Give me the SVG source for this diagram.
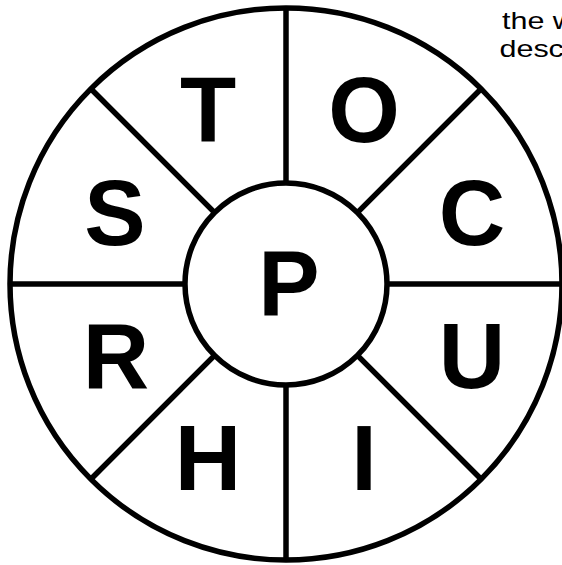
<svg xmlns="http://www.w3.org/2000/svg" width="562" height="565" viewBox="0 0 562 565">
  <style>
    .ring { fill: none; stroke: #000; stroke-width: 5.5; }
    .hub { fill: #fff; stroke: #000; stroke-width: 5.5; }
    .spoke { stroke: #000; stroke-width: 5.5; stroke-linecap: butt; fill: none; }
    .letter { font-family: "Liberation Sans", Arial, sans-serif; font-weight: bold; font-size: 92px; fill: #000; text-anchor: middle; }
    .note { font-family: "Liberation Sans", Arial, sans-serif; font-size: 24px; fill: #000; }
  </style>
  <rect width="562" height="565" fill="#fff"/>
  <g id="outer-ring">
    <circle class="ring" cx="286" cy="284" r="276"/>
  </g>
  <g id="connectors">
    <line class="spoke" x1="286" y1="183" x2="286" y2="8"/>
    <line class="spoke" x1="286" y1="385" x2="286" y2="561"/>
    <line class="spoke" x1="185" y1="284" x2="10" y2="284"/>
    <line class="spoke" x1="387" y1="284" x2="562" y2="284"/>
    <line class="spoke" x1="214.6" y1="212.6" x2="90.8" y2="88.8"/>
    <line class="spoke" x1="357.4" y1="212.6" x2="481.2" y2="88.8"/>
    <line class="spoke" x1="214.6" y1="355.4" x2="90.8" y2="479.2"/>
    <line class="spoke" x1="357.4" y1="355.4" x2="481.2" y2="479.2"/>
  </g>
  <g id="hub-P">
    <circle class="hub" cx="286" cy="284" r="101"/>
    <text class="letter" x="289" y="316">P</text>
  </g>
  <g id="seg-T"><text class="letter" x="208" y="142">T</text></g>
  <g id="seg-O"><text class="letter" x="364" y="142">O</text></g>
  <g id="seg-S"><text class="letter" x="115" y="245">S</text></g>
  <g id="seg-C"><text class="letter" x="472" y="245">C</text></g>
  <g id="seg-R"><text class="letter" x="116" y="388">R</text></g>
  <g id="seg-U"><text class="letter" x="472" y="388">U</text></g>
  <g id="seg-H"><text class="letter" x="208" y="490">H</text></g>
  <g id="seg-I"><text class="letter" x="364" y="490">I</text></g>
  <g id="note">
    <text class="note" transform="translate(502,29.3) scale(1.27,1)">the w</text>
    <text class="note" transform="translate(499.5,57.3) scale(1.27,1)">descr</text>
  </g>
</svg>
